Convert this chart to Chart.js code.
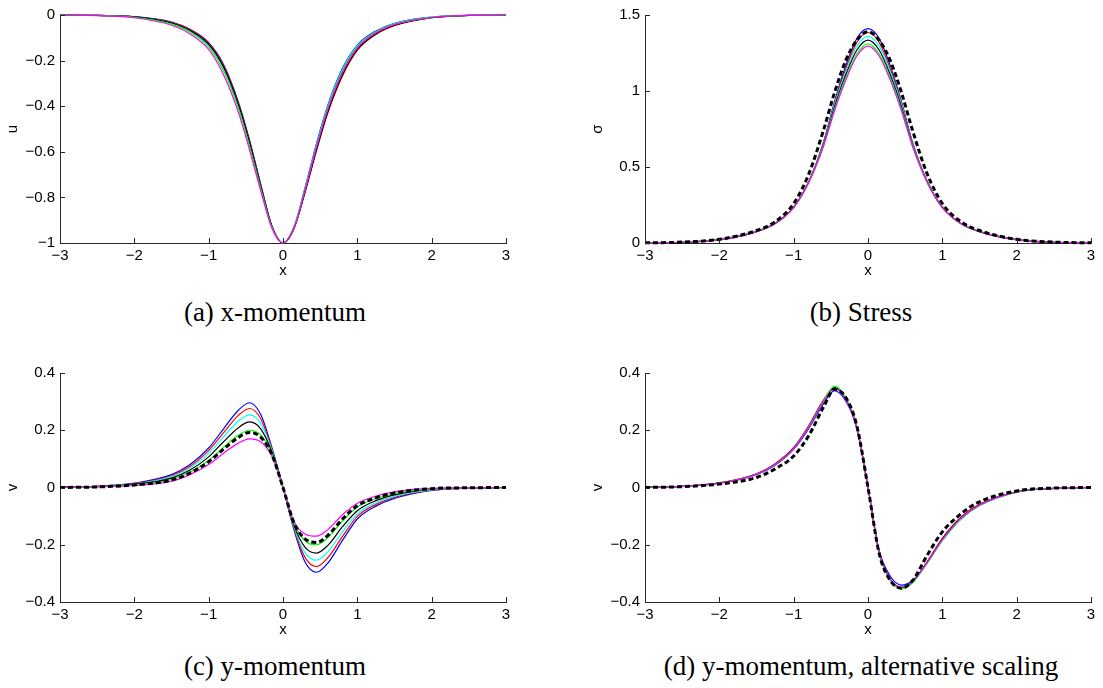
<!DOCTYPE html>
<html>
<head>
<meta charset="utf-8">
<script src="https://cdn.jsdelivr.net/npm/chart.js@4/dist/chart.umd.min.js"></script>
<style>
body { margin: 0; background: #fff; width: 1103px; height: 688px; overflow: hidden; position: relative; }
canvas { position: absolute; }
.cap { position: absolute; font-family: "Liberation Serif", serif; font-size: 27px; color: #000; transform: translateX(-50%); white-space: nowrap; line-height: 31px; }
</style>
</head>
<body>
<canvas id="chartA" width="518" height="290" style="left:0;top:0"></canvas>
<canvas id="chartB" width="518" height="290" style="left:585px;top:0"></canvas>
<canvas id="chartC" width="518" height="291" style="left:0;top:358px"></canvas>
<canvas id="chartD" width="518" height="291" style="left:585px;top:358px"></canvas>
<div class="cap" style="left:275px;top:297px">(a) x-momentum</div>
<div class="cap" style="left:861px;top:297px">(b) Stress</div>
<div class="cap" style="left:275px;top:651px">(c) y-momentum</div>
<div class="cap" style="left:861px;top:651px">(d) y-momentum, alternative scaling</div>
<script>
// sample positions along x
var xs = [-3, -2.5, -2, -1.5, -1.25, -1, -0.8, -0.6, -0.45, -0.3, -0.15, 0, 0.15, 0.3, 0.45, 0.6, 0.8, 1, 1.25, 1.5, 2, 2.5, 3];

// (a) x-momentum u
var uBlue    = [0, -0.002, -0.007, -0.031, -0.063, -0.121, -0.217, -0.382, -0.549, -0.742, -0.924, -1, -0.928, -0.753, -0.564, -0.399, -0.234, -0.132, -0.07, -0.036, -0.009, -0.002, 0];
var uRed     = [0, -0.002, -0.008, -0.033, -0.065, -0.125, -0.223, -0.388, -0.554, -0.746, -0.925, -1, -0.935, -0.774, -0.596, -0.432, -0.267, -0.155, -0.085, -0.047, -0.012, -0.002, 0];
var uCyan    = [0, -0.002, -0.009, -0.036, -0.07, -0.132, -0.234, -0.399, -0.564, -0.753, -0.928, -1, -0.929, -0.756, -0.57, -0.404, -0.239, -0.136, -0.073, -0.038, -0.009, -0.002, 0];
var uBlack   = [0, -0.002, -0.008, -0.035, -0.068, -0.129, -0.228, -0.393, -0.559, -0.75, -0.926, -1, -0.934, -0.771, -0.591, -0.427, -0.262, -0.151, -0.083, -0.045, -0.012, -0.002, 0];
var uGreen   = [0, -0.002, -0.01, -0.04, -0.075, -0.14, -0.245, -0.41, -0.575, -0.76, -0.93, -1, -0.93, -0.76, -0.575, -0.41, -0.245, -0.14, -0.075, -0.04, -0.01, -0.002, 0];
var uMagenta = [0, -0.003, -0.012, -0.045, -0.083, -0.151, -0.262, -0.427, -0.591, -0.771, -0.934, -1, -0.931, -0.764, -0.58, -0.416, -0.251, -0.144, -0.078, -0.042, -0.011, -0.002, 0];

// (b) stress sigma
var sBlue    = [0.001, 0.005, 0.022, 0.075, 0.128, 0.235, 0.4, 0.66, 0.93, 1.165, 1.345, 1.41, 1.345, 1.165, 0.93, 0.66, 0.4, 0.235, 0.128, 0.075, 0.022, 0.005, 0.001];
var sRed     = [0.001, 0.005, 0.022, 0.075, 0.128, 0.235, 0.4, 0.655, 0.92, 1.145, 1.32, 1.385, 1.32, 1.145, 0.92, 0.655, 0.4, 0.235, 0.128, 0.075, 0.022, 0.005, 0.001];
var sCyan    = [0.001, 0.005, 0.022, 0.075, 0.128, 0.235, 0.4, 0.65, 0.91, 1.125, 1.295, 1.36, 1.295, 1.125, 0.91, 0.65, 0.4, 0.235, 0.128, 0.075, 0.022, 0.005, 0.001];
var sBlack   = [0.001, 0.005, 0.022, 0.075, 0.128, 0.235, 0.4, 0.645, 0.895, 1.105, 1.27, 1.335, 1.27, 1.105, 0.895, 0.645, 0.4, 0.235, 0.128, 0.075, 0.022, 0.005, 0.001];
var sGreen   = [0.001, 0.005, 0.022, 0.075, 0.128, 0.235, 0.398, 0.64, 0.88, 1.085, 1.245, 1.31, 1.245, 1.085, 0.88, 0.64, 0.398, 0.235, 0.128, 0.075, 0.022, 0.005, 0.001];
var sMagenta = [0.001, 0.005, 0.022, 0.075, 0.128, 0.235, 0.396, 0.635, 0.87, 1.07, 1.23, 1.295, 1.23, 1.07, 0.87, 0.635, 0.396, 0.235, 0.128, 0.075, 0.022, 0.005, 0.001];
var sDashed  = [0.001, 0.006, 0.024, 0.082, 0.14, 0.26, 0.45, 0.74, 0.99, 1.2, 1.335, 1.39, 1.335, 1.2, 0.99, 0.74, 0.45, 0.26, 0.14, 0.082, 0.024, 0.006, 0.001];

// (c) y-momentum v
var vBlue    = [0.001, 0.004, 0.015, 0.045, 0.08, 0.138, 0.205, 0.27, 0.296, 0.255, 0.14, 0, -0.15, -0.262, -0.296, -0.265, -0.185, -0.11, -0.065, -0.038, -0.01, -0.002, 0];
var vRed     = [0.001, 0.004, 0.014, 0.041, 0.074, 0.129, 0.191, 0.252, 0.276, 0.24, 0.135, 0, -0.145, -0.246, -0.276, -0.246, -0.171, -0.101, -0.059, -0.034, -0.009, -0.002, 0];
var vCyan    = [0.001, 0.003, 0.012, 0.037, 0.068, 0.119, 0.177, 0.232, 0.254, 0.224, 0.13, 0, -0.14, -0.229, -0.254, -0.226, -0.155, -0.092, -0.053, -0.03, -0.008, -0.002, 0];
var vBlack   = [0.001, 0.003, 0.011, 0.033, 0.061, 0.107, 0.16, 0.209, 0.229, 0.205, 0.124, 0, -0.134, -0.21, -0.229, -0.203, -0.137, -0.081, -0.046, -0.026, -0.006, -0.001, 0];
var vGreen   = [0, 0.003, 0.009, 0.028, 0.053, 0.094, 0.14, 0.183, 0.2, 0.183, 0.117, 0, -0.127, -0.187, -0.2, -0.176, -0.117, -0.068, -0.038, -0.021, -0.005, -0.001, 0];
var vMagenta = [0, 0.002, 0.007, 0.022, 0.045, 0.08, 0.12, 0.155, 0.17, 0.16, 0.11, 0, -0.12, -0.163, -0.17, -0.148, -0.095, -0.055, -0.03, -0.015, -0.003, -0.001, 0];
var vDashed  = [0, 0.002, 0.009, 0.026, 0.051, 0.09, 0.134, 0.175, 0.192, 0.176, 0.115, 0, -0.125, -0.18, -0.192, -0.168, -0.11, -0.064, -0.036, -0.019, -0.004, -0.001, 0];

// (d) y-momentum, alternative scaling
var wBlue    = [0.001, 0.004, 0.015, 0.045, 0.078, 0.133, 0.205, 0.292, 0.338, 0.302, 0.206, 0, -0.22, -0.31, -0.341, -0.325, -0.262, -0.185, -0.11, -0.063, -0.016, -0.003, 0];
var wRed     = [0.001, 0.004, 0.016, 0.048, 0.083, 0.14, 0.215, 0.305, 0.349, 0.31, 0.21, 0, -0.226, -0.322, -0.35, -0.33, -0.258, -0.178, -0.104, -0.059, -0.015, -0.003, 0];
var wCyan    = [0.001, 0.004, 0.015, 0.046, 0.08, 0.136, 0.21, 0.299, 0.346, 0.308, 0.209, 0, -0.225, -0.32, -0.35, -0.331, -0.262, -0.183, -0.108, -0.062, -0.016, -0.003, 0];
var wBlack   = [0.001, 0.004, 0.015, 0.047, 0.081, 0.138, 0.212, 0.302, 0.348, 0.31, 0.21, 0, -0.226, -0.321, -0.349, -0.329, -0.259, -0.179, -0.105, -0.06, -0.015, -0.003, 0];
var wGreen   = [0.001, 0.004, 0.015, 0.046, 0.08, 0.137, 0.211, 0.302, 0.354, 0.314, 0.212, 0, -0.228, -0.324, -0.355, -0.333, -0.263, -0.184, -0.109, -0.062, -0.016, -0.003, 0];
var wMagenta = [0.001, 0.004, 0.015, 0.046, 0.08, 0.136, 0.209, 0.298, 0.346, 0.308, 0.21, 0, -0.226, -0.321, -0.349, -0.329, -0.26, -0.181, -0.106, -0.061, -0.015, -0.003, 0];
var wDashed  = [0, 0.003, 0.012, 0.035, 0.065, 0.11, 0.18, 0.28, 0.343, 0.315, 0.215, 0, -0.23, -0.325, -0.352, -0.325, -0.235, -0.155, -0.092, -0.05, -0.012, -0.002, 0];

var colors = ['#0000ff', '#ff0000', '#00ffff', '#000000', '#00ff00', '#ff00ff'];
var axisColor = '#262626';

// MATLAB style ticks pointing into the plot
var inwardTicks = {
    id: 'inwardTicks',
    afterDraw: function(chart) {
        var ctx = chart.ctx, a = chart.chartArea;
        var sx = chart.scales.x, sy = chart.scales.y;
        ctx.save();
        ctx.strokeStyle = axisColor;
        ctx.lineWidth = 1;
        ctx.beginPath();
        sx.ticks.forEach(function(t) {
            var px = Math.round(sx.getPixelForValue(t.value)) + 0.5;
            ctx.moveTo(px, a.bottom);
            ctx.lineTo(px, a.bottom - 5);
        });
        sy.ticks.forEach(function(t) {
            var py = Math.round(sy.getPixelForValue(t.value)) + 0.5;
            ctx.moveTo(a.left, py);
            ctx.lineTo(a.left + 5, py);
        });
        ctx.stroke();
        ctx.restore();
    }
};

function fmt(v) {
    return String(Math.round(v * 10) / 10).replace('-', '\u2212');
}

function makeChart(id, yTitle, yMin, yMax, yStep, lines, dashed) {
    var datasets = lines.map(function(arr, i) {
        return {
            data: xs.map(function(x, j) { return {x: x, y: arr[j]}; }),
            borderColor: colors[i],
            borderWidth: 1.2,
            order: 10 - i
        };
    });
    if (dashed) {
        datasets.push({
            data: xs.map(function(x, j) { return {x: x, y: dashed[j]}; }),
            borderColor: '#000000',
            borderWidth: 3,
            borderDash: [5, 3],
            order: 0
        });
    }
    datasets.forEach(function(d) {
        d.showLine = true;
        d.pointRadius = 0;
        d.fill = false;
        d.cubicInterpolationMode = 'monotone';
        d.clip = 4;
    });
    var tickFont = {family: 'Liberation Sans', size: 15};
    return new Chart(document.getElementById(id), {
        type: 'scatter',
        data: {datasets: datasets},
        options: {
            responsive: false,
            animation: false,
            devicePixelRatio: 1,
            layout: {padding: {left: 0, top: 15, right: 12, bottom: 10}},
            plugins: {legend: {display: false}, tooltip: {enabled: false}},
            scales: {
                x: {
                    type: 'linear', min: -3, max: 3,
                    grid: {display: false, drawTicks: false},
                    border: {display: true, color: axisColor, width: 1},
                    ticks: {stepSize: 1, padding: 4, color: '#000', font: tickFont, callback: fmt, maxRotation: 0},
                    title: {display: true, text: 'x', color: '#000', font: tickFont, padding: {top: 0, bottom: 0}},
                    afterFit: function(s) { s.height = 37; }
                },
                y: {
                    type: 'linear', min: yMin, max: yMax,
                    grid: {display: false, drawTicks: false},
                    border: {display: true, color: axisColor, width: 1},
                    ticks: {stepSize: yStep, padding: 5, color: '#000', font: tickFont, callback: fmt},
                    title: {display: true, text: yTitle, color: '#000', font: tickFont, padding: {top: 4, bottom: 0}},
                    afterFit: function(s) { s.width = 60; }
                }
            }
        },
        plugins: [inwardTicks]
    });
}

makeChart('chartA', 'u', -1, 0, 0.2, [uBlue, uRed, uCyan, uBlack, uGreen, uMagenta], null);
makeChart('chartB', '\u03c3', 0, 1.5, 0.5, [sBlue, sRed, sCyan, sBlack, sGreen, sMagenta], sDashed);
makeChart('chartC', 'v', -0.4, 0.4, 0.2, [vBlue, vRed, vCyan, vBlack, vGreen, vMagenta], vDashed);
makeChart('chartD', 'v', -0.4, 0.4, 0.2, [wBlue, wRed, wCyan, wBlack, wGreen, wMagenta], wDashed);
</script>
</body>
</html>
